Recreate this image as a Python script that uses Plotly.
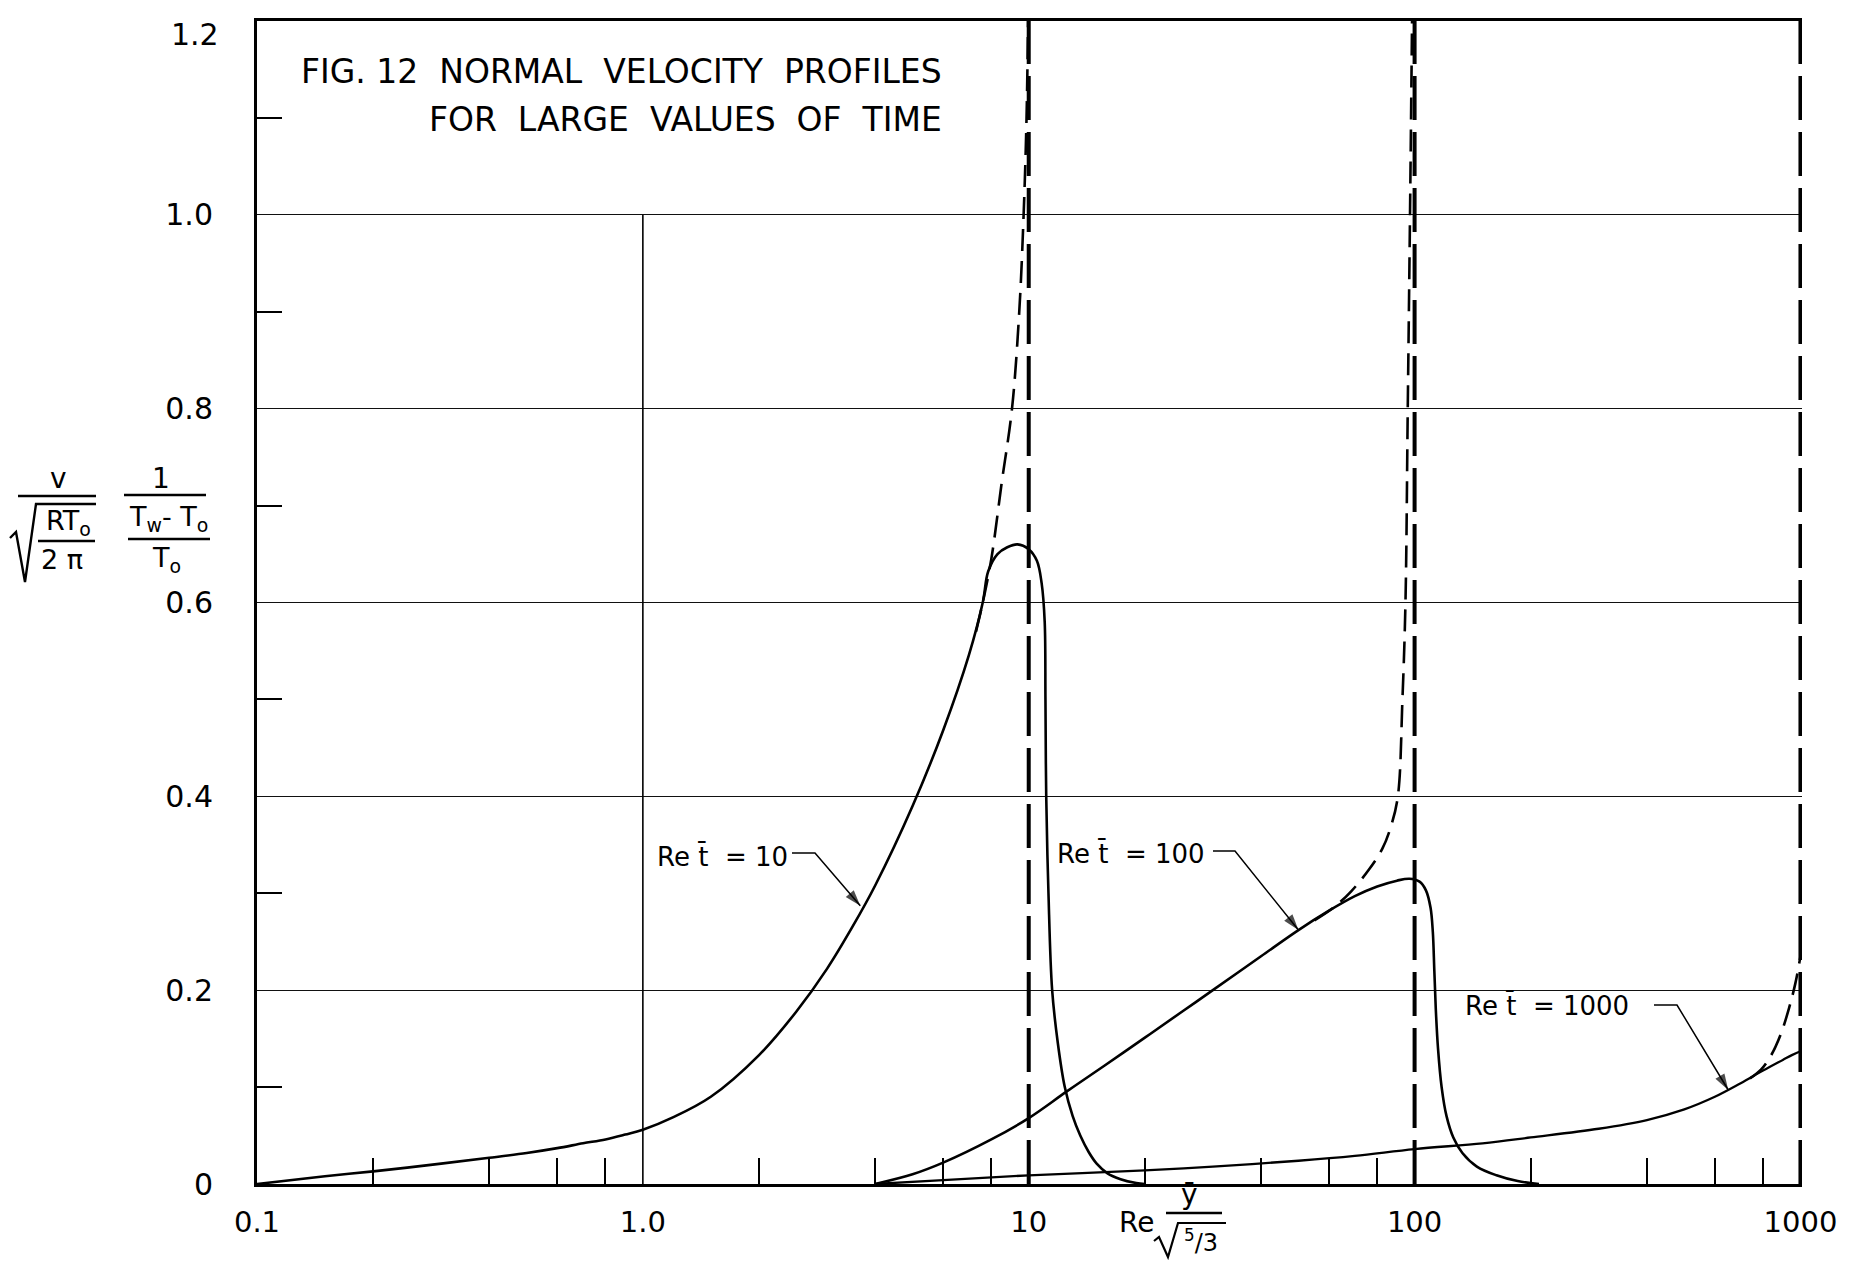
import numpy as np
import plotly.graph_objects as go

# ---------------- data ----------------
re10_x = [0.1, 0.15, 0.2, 0.3, 0.4, 0.5, 0.6, 0.7, 0.8, 0.9, 1.0, 1.2, 1.5, 2.0, 2.5, 3.0,
          3.5, 4.0, 5.0, 6.0, 7.0, 7.6, 7.85, 8.3, 8.8, 9.35, 10.0, 10.5, 10.8, 11.0,
          11.05, 11.1, 11.25, 11.5, 11.9, 12.4, 13.0, 13.6, 14.3, 15.0, 16.0, 17.3, 19.0, 20.0]
re10_y = [0.0, 0.008, 0.013, 0.021, 0.027, 0.032, 0.037, 0.042, 0.046, 0.051, 0.056, 0.069,
          0.09, 0.133, 0.178, 0.222, 0.266, 0.308, 0.39, 0.468, 0.546, 0.60, 0.632,
          0.65, 0.657, 0.66, 0.655, 0.643, 0.62, 0.58, 0.50, 0.40, 0.30, 0.20, 0.145, 0.10,
          0.07, 0.05, 0.033, 0.021, 0.011, 0.005, 0.001, 0.0]

re10_dash_x = [7.3, 7.6, 8.0, 8.5, 9.05, 9.45, 9.7, 9.87, 9.96]
re10_dash_y = [0.57, 0.60, 0.645, 0.722, 0.80, 0.90, 1.0, 1.1, 1.2]

re100_x = [4.0, 5.0, 6.0, 8.0, 10, 12.5, 15.7, 20, 25, 30, 40, 50, 60, 70, 80, 90, 97, 103,
           107, 110, 111.5, 112.5, 113.5, 115, 117.5, 121, 126, 133, 145, 163, 185, 210]
re100_y = [0.0, 0.01, 0.022, 0.046, 0.068, 0.095, 0.122, 0.151, 0.178, 0.20, 0.235, 0.262,
           0.282, 0.297, 0.307, 0.313, 0.315, 0.312, 0.303, 0.285, 0.26, 0.22, 0.18, 0.14,
           0.10, 0.07, 0.048, 0.032, 0.018, 0.009, 0.003, 0.0]

re100_dash_x = [55, 62, 68.5, 76, 82.5, 87, 90.5, 93, 94.7, 96, 97.3, 98.5]
re100_dash_y = [0.272, 0.286, 0.302, 0.324, 0.346, 0.37, 0.40, 0.50, 0.60, 0.80, 1.0, 1.2]

re1000_x = [4, 6, 10, 20, 30, 50, 70, 100, 150, 200, 300, 400, 500, 600, 700, 800, 900, 950, 1000]
re1000_y = [0.0, 0.004, 0.009, 0.014, 0.018, 0.024, 0.029, 0.036, 0.042, 0.048, 0.057, 0.066,
            0.077, 0.09, 0.104, 0.117, 0.128, 0.133, 0.137]

re1000_dash_x = [740, 790, 840, 890, 935, 970, 1000]
re1000_dash_y = [0.109, 0.118, 0.133, 0.155, 0.182, 0.207, 0.235]

asymptote_x = [10, 100, 1000]
asymptote_y = [0.0, 1.2]
unit_line_x = [1.0, 1.0]
unit_line_y = [0.0, 1.0]

x_tickvals = [0.1, 1, 10, 100, 1000]
x_ticktext = ["0.1", "1.0", "10", "100", "1000"]
x_minor = [0.2, 0.4, 0.6, 0.8, 2, 4, 6, 8, 20, 40, 60, 80, 200, 400, 600, 800]
y_tickvals = [0, 0.2, 0.4, 0.6, 0.8, 1.0]
y_ticktext = ["0", "0.2", "0.4", "0.6", "0.8", "1.0"]
y_top_label = "1.2"
y_minor = [0.1, 0.3, 0.5, 0.7, 0.9, 1.1]

curve_labels = ["Re t\u0304  = 10", "Re t\u0304  = 100", "Re t\u0304  = 1000"]
arrow_tips_x = [3.66, 50, 650]
arrow_tips_y = [0.287, 0.262, 0.097]

# ---------------- layout geometry ----------------
W, H = 1858, 1261
L, R, T, B = 249, 1794, 13, 1176
PW, PH = R - L, B - T
XR = [-1, 3.004]
YR = [0, 1.2]
FONT = "DejaVu Sans"


def px(x):
    return (x - L) / PW


def py(y):
    return (B - y) / PH


def data_x(p):
    return 10 ** ((p - L) / PW * (XR[1] - XR[0]) + XR[0])


def data_y(p):
    return (B - p) / PH * (YR[1] - YR[0])


fig = go.Figure()

solid = dict(color="black", width=2.6)
dashed = dict(color="black", width=2.6, dash="22px,10px")

fig.add_trace(go.Scatter(x=re10_x, y=re10_y, mode="lines", line=solid, line_shape="spline"))
fig.add_trace(go.Scatter(x=re10_dash_x, y=re10_dash_y, mode="lines", line=dashed, line_shape="spline"))
fig.add_trace(go.Scatter(x=re100_x, y=re100_y, mode="lines", line=solid, line_shape="spline"))
fig.add_trace(go.Scatter(x=re100_dash_x, y=re100_dash_y, mode="lines", line=dashed, line_shape="spline"))
fig.add_trace(go.Scatter(x=re1000_x, y=re1000_y, mode="lines", line=dict(color="black", width=2.3),
                         line_shape="spline"))
fig.add_trace(go.Scatter(x=re1000_dash_x, y=re1000_dash_y, mode="lines", line=dashed, line_shape="spline"))

for ax_x in asymptote_x:
    fig.add_trace(go.Scatter(x=[ax_x, ax_x], y=asymptote_y, mode="lines",
                             line=dict(color="black", width=4, dash="44px,12px")))
fig.add_trace(go.Scatter(x=unit_line_x, y=unit_line_y, mode="lines",
                         line=dict(color="black", width=1.6)))

# ---------------- axes ----------------
fig.update_xaxes(
    type="log", range=XR, showgrid=False, zeroline=False,
    showline=True, linecolor="black", linewidth=3, mirror=True,
    tickmode="array", tickvals=x_tickvals, ticktext=x_ticktext, ticks="",
    tickfont=dict(family=FONT, size=29, color="black"), ticklabelstandoff=10,
    minor=dict(tickmode="array", tickvals=x_minor, ticks="inside", ticklen=26,
               tickwidth=2, tickcolor="black", showgrid=False),
)
fig.update_yaxes(
    range=YR, showgrid=True, gridcolor="#111111", gridwidth=1.4, zeroline=False,
    showline=True, linecolor="black", linewidth=3,
    tickmode="array", tickvals=y_tickvals, ticktext=y_ticktext, ticks="",
    tickfont=dict(family=FONT, size=30, color="black"), ticklabelstandoff=35,
    minor=dict(tickmode="array", tickvals=y_minor, ticks="inside", ticklen=25,
               tickwidth=2, tickcolor="black", showgrid=False),
)

annotations = []
shapes = []

# top tick label, nudged just below the frame so it is not clipped
annotations.append(dict(text=y_top_label, x=px(L - 36), y=py(26), xref="paper", yref="paper",
                        xanchor="right", yanchor="middle", showarrow=False,
                        font=dict(family=FONT, size=30, color="black")))

# title
annotations.append(dict(text="FIG. 12  NORMAL  VELOCITY  PROFILES", x=px(291), y=py(63),
                        xref="paper", yref="paper", xanchor="left", yanchor="middle",
                        showarrow=False, font=dict(family=FONT, size=33, color="black")))
annotations.append(dict(text="FOR  LARGE  VALUES  OF  TIME", x=px(419), y=py(112),
                        xref="paper", yref="paper", xanchor="left", yanchor="middle",
                        showarrow=False, font=dict(family=FONT, size=33, color="black")))

# curve labels with kinked leader lines and arrowheads
label_pos = [(647, 848), (1047, 845), (1455, 997)]
dash_seg = [(784, 807, 845), (1205, 1227, 843), (1646, 1669, 997)]
for lab, (lx, ly), (d0, d1, dy), tx, ty in zip(curve_labels, label_pos, dash_seg,
                                               arrow_tips_x, arrow_tips_y):
    annotations.append(dict(text=lab, x=px(lx), y=py(ly), xref="paper", yref="paper",
                            xanchor="left", yanchor="middle", showarrow=False,
                            font=dict(family=FONT, size=26, color="black")))
    fig.add_trace(go.Scatter(
        x=[data_x(d0), data_x(d1), tx], y=[data_y(dy), data_y(dy), ty],
        mode="lines+markers", line=dict(color="black", width=1.5),
        marker=dict(symbol="arrow", size=[0, 0, 17], angleref="previous", color="black",
                    line=dict(width=0)),
    ))


def txt(s, x, y, size=27):
    annotations.append(dict(text=s, x=px(x), y=py(y), xref="paper", yref="paper",
                            xanchor="center", yanchor="middle", showarrow=False,
                            font=dict(family=FONT, size=size, color="black")))


def hline(x0, x1, y, w=2.4):
    shapes.append(dict(type="line", xref="paper", yref="paper", x0=px(x0), x1=px(x1),
                       y0=py(y), y1=py(y), line=dict(color="black", width=w)))


def path(points, w=2.4):
    d = "M " + " L ".join(f"{px(a):.5f},{py(b):.5f}" for a, b in points)
    shapes.append(dict(type="path", xref="paper", yref="paper", path=d,
                       line=dict(color="black", width=w)))


# y-axis title: v / sqrt(RT0 / 2pi) * 1 / ((Tw - T0)/T0)
txt("v", 50, 470, 28)
hline(10, 88, 488)
path([(2, 530), (8, 524), (17, 574), (28, 496), (88, 496)])
txt("RT<sub>o</sub>", 60, 514, 27)
hline(30, 87, 533)
txt("2 \u03c0", 54, 551, 27)
txt("1", 153, 470, 28)
hline(116, 198, 487)
txt("T<sub>w</sub>- T<sub>o</sub>", 160, 510, 27)
hline(120, 202, 531)
txt("T<sub>o</sub>", 158, 551, 27)

# x-axis title: Re * ybar / sqrt(5/3)
txt("Re", 1128, 1214, 28)
txt("\u0233", 1181, 1186, 28)
hline(1158, 1214, 1205)
path([(1146, 1233), (1151, 1229), (1160, 1249), (1170, 1215), (1218, 1215)], w=2.2)
txt("<sup>5</sup>/3", 1193, 1233, 24)

fig.update_layout(
    width=W, height=H,
    margin=dict(l=L, r=W - R, t=T, b=H - B, autoexpand=False),
    paper_bgcolor="white", plot_bgcolor="white",
    showlegend=False,
    annotations=annotations, shapes=shapes,
    font=dict(family=FONT, color="black"),
)

fig.write_html("out.html")
